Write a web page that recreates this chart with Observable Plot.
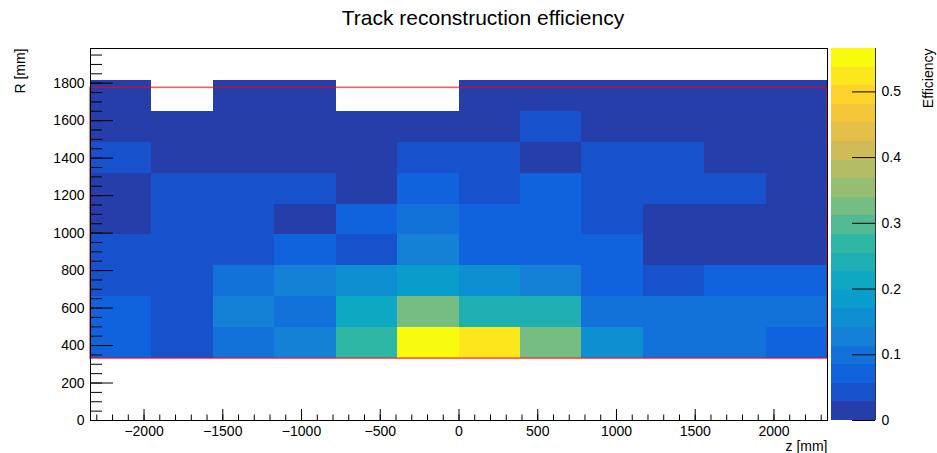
<!DOCTYPE html>
<html><head><meta charset="utf-8">
<script src="https://cdn.jsdelivr.net/npm/d3@7"></script>
<script src="https://cdn.jsdelivr.net/npm/@observablehq/plot@0.6"></script>
<style>
body{margin:0;background:#fff;font-family:"Liberation Sans",Arial,sans-serif;}
#wrap{position:relative;width:937px;height:453px;overflow:hidden;}
#wrap svg{position:absolute;left:0;top:0;}
#title{position:absolute;top:5px;left:0;width:966px;text-align:center;font-size:21px;line-height:25px;color:#000;z-index:2;}
</style></head><body>
<div id="wrap"><div id="title">Track reconstruction efficiency</div></div>
<script>
// z bin edges [mm]
const zEdges = [-2340,-1950,-1560,-1170,-780,-390,0,390,780,1170,1560,1950,2340];
// R bin edges [mm]
const rEdges = [330,495,660,825,990,1155,1320,1485,1650,1815];
// efficiency per R bin (bottom row first), one value per z bin; null = empty bin
const eff0 = [0.070,0.042,0.099,0.127,0.269,0.560,0.520,0.325,0.156,0.099,0.099,0.070];
const eff1 = [0.070,0.042,0.127,0.099,0.212,0.325,0.240,0.240,0.099,0.099,0.099,0.099];
const eff2 = [0.042,0.042,0.099,0.127,0.156,0.184,0.156,0.127,0.070,0.042,0.070,0.070];
const eff3 = [0.042,0.042,0.042,0.070,0.042,0.127,0.070,0.070,0.070,0.012,0.012,0.012];
const eff4 = [0.012,0.042,0.042,0.012,0.070,0.099,0.070,0.070,0.042,0.012,0.012,0.012];
const eff5 = [0.012,0.042,0.042,0.042,0.012,0.070,0.042,0.070,0.042,0.042,0.042,0.012];
const eff6 = [0.042,0.012,0.012,0.012,0.012,0.042,0.042,0.012,0.042,0.042,0.012,0.012];
const eff7 = [0.012,0.012,0.012,0.012,0.012,0.012,0.012,0.042,0.012,0.012,0.012,0.012];
const eff8 = [0.012,null,0.012,0.012,null,null,0.012,0.012,0.012,0.012,0.012,0.012];
const effRows = [eff0,eff1,eff2,eff3,eff4,eff5,eff6,eff7,eff8];
// detector outline box [zMin, zMax, rMin, rMax]
const boxZ = [-2340, 2340];
const boxR = [330, 1775];
// axis ranges and ticks
const rTop = 1985;
const zMax = 0.566;
const nContours = 20;
const xMajor = [-2000,-1500,-1000,-500,0,500,1000,1500,2000];
const xMinor = d3.range(-2300, 2301, 100);
const yMajor = [0,200,400,600,800,1000,1200,1400,1600,1800];
const yMinor = d3.range(0, 1951, 50);
const zTicks = [0,0.1,0.2,0.3,0.4,0.5];
// ROOT kBird palette stops
const birdStops = [0,0.125,0.25,0.375,0.5,0.625,0.75,0.875,1];
const birdR = [0.2082,0.0592,0.0780,0.0232,0.1802,0.5301,0.8186,0.9956,0.9764];
const birdG = [0.1664,0.3599,0.5041,0.6419,0.7178,0.7492,0.7328,0.7862,0.9832];
const birdB = [0.5293,0.8684,0.8385,0.7914,0.6425,0.4662,0.3499,0.1968,0.0539];

const bird = d3.scaleLinear().domain(birdStops)
  .range(birdStops.map((s,i)=>d3.rgb(birdR[i]*255,birdG[i]*255,birdB[i]*255).formatHex()))
  .interpolate(d3.interpolateRgb);
const bandColours = d3.range(nContours).map(k=>bird((k+1)/nContours));
const colorScale = {type:"threshold", domain:d3.range(1,nContours).map(i=>i*zMax/nContours), range:bandColours};

const cells = [];
effRows.forEach((row,j)=>row.forEach((v,i)=>{
  if (v!=null) cells.push({z1:zEdges[i], z2:zEdges[i+1], r1:rEdges[j], r2:rEdges[j+1], v});
}));
const box = [{z1:boxZ[0], z2:boxZ[1], r1:boxR[0], r2:boxR[1]}];
const bands = d3.range(nContours).map(k=>({lo:k*zMax/nContours, hi:(k+1)*zMax/nContours, mid:(k+0.5)*zMax/nContours}));

const W=937, H=453, mL=90, mR=110, mT=48, mB=33;
const innerW = W-mL-mR, innerH = H-mT-mB;
const font = '"Liberation Sans", Arial, sans-serif';
const intFmt = d3.format("d");
const zFmt = d3.format("~g");

const main = Plot.plot({
  width:W, height:H, marginLeft:mL, marginRight:mR, marginTop:mT, marginBottom:mB,
  style:{fontFamily:font, fontSize:"14px", background:"transparent", color:"#000", overflow:"visible"},
  x:{domain:[zEdges[0], zEdges[zEdges.length-1]]},
  y:{domain:[0, rTop]},
  color:colorScale,
  marks:[
    Plot.rect(cells, {x1:"z1", x2:"z2", y1:"r1", y2:"r2", fill:"v", shapeRendering:"crispEdges"}),
    Plot.rect(box, {x1:"z1", x2:"z2", y1:"r1", y2:"r2", fill:"none", stroke:"#ff0000", strokeOpacity:0.65, strokeWidth:1.6}),
    Plot.tickX(xMinor, {x:d=>d, insetTop:innerH-5.5, stroke:"#000"}),
    Plot.tickX(xMajor, {x:d=>d, insetTop:innerH-11, stroke:"#000"}),
    Plot.tickY(yMinor, {y:d=>d, insetRight:innerW-12, stroke:"#000"}),
    Plot.tickY(yMajor, {y:d=>d, insetRight:innerW-23, stroke:"#000"}),
    Plot.axisX({ticks:xMajor, tickSize:0, tickPadding:6, tickFormat:intFmt, label:null, fontSize:14}),
    Plot.axisY({ticks:yMajor, tickSize:0, tickPadding:6, tickFormat:intFmt, label:null, fontSize:14}),
    Plot.frame({stroke:"#000"}),
    Plot.text(["z [mm]"], {frameAnchor:"bottom-right", dy:26, textAnchor:"end", lineAnchor:"middle", fontSize:14}),
    Plot.text(["R [mm]"], {frameAnchor:"top-left", dx:-70, rotate:-90, textAnchor:"end", lineAnchor:"middle", fontSize:14})
  ]
});

const bar = Plot.plot({
  width:W, height:H, marginLeft:831, marginRight:62, marginTop:mT, marginBottom:mB,
  style:{fontFamily:font, fontSize:"14px", background:"transparent", color:"#000", overflow:"visible"},
  x:{domain:[0,1], axis:null},
  y:{domain:[0,zMax], axis:null},
  color:colorScale,
  marks:[
    Plot.rect(bands, {x1:0, x2:1, y1:"lo", y2:"hi", fill:"mid", shapeRendering:"crispEdges"}),
    Plot.tickY(zTicks, {y:d=>d, insetLeft:44-23, stroke:"#000"}),
    Plot.ruleX([1], {stroke:"#333"}),
    Plot.axisY({anchor:"right", ticks:zTicks, tickSize:0, tickPadding:6, tickFormat:zFmt, label:null, fontSize:14}),
    Plot.text(["Efficiency"], {frameAnchor:"top-right", dx:53, rotate:-90, textAnchor:"end", lineAnchor:"middle", fontSize:14})
  ]
});

document.getElementById("wrap").append(main, bar);
</script>
</body></html>
